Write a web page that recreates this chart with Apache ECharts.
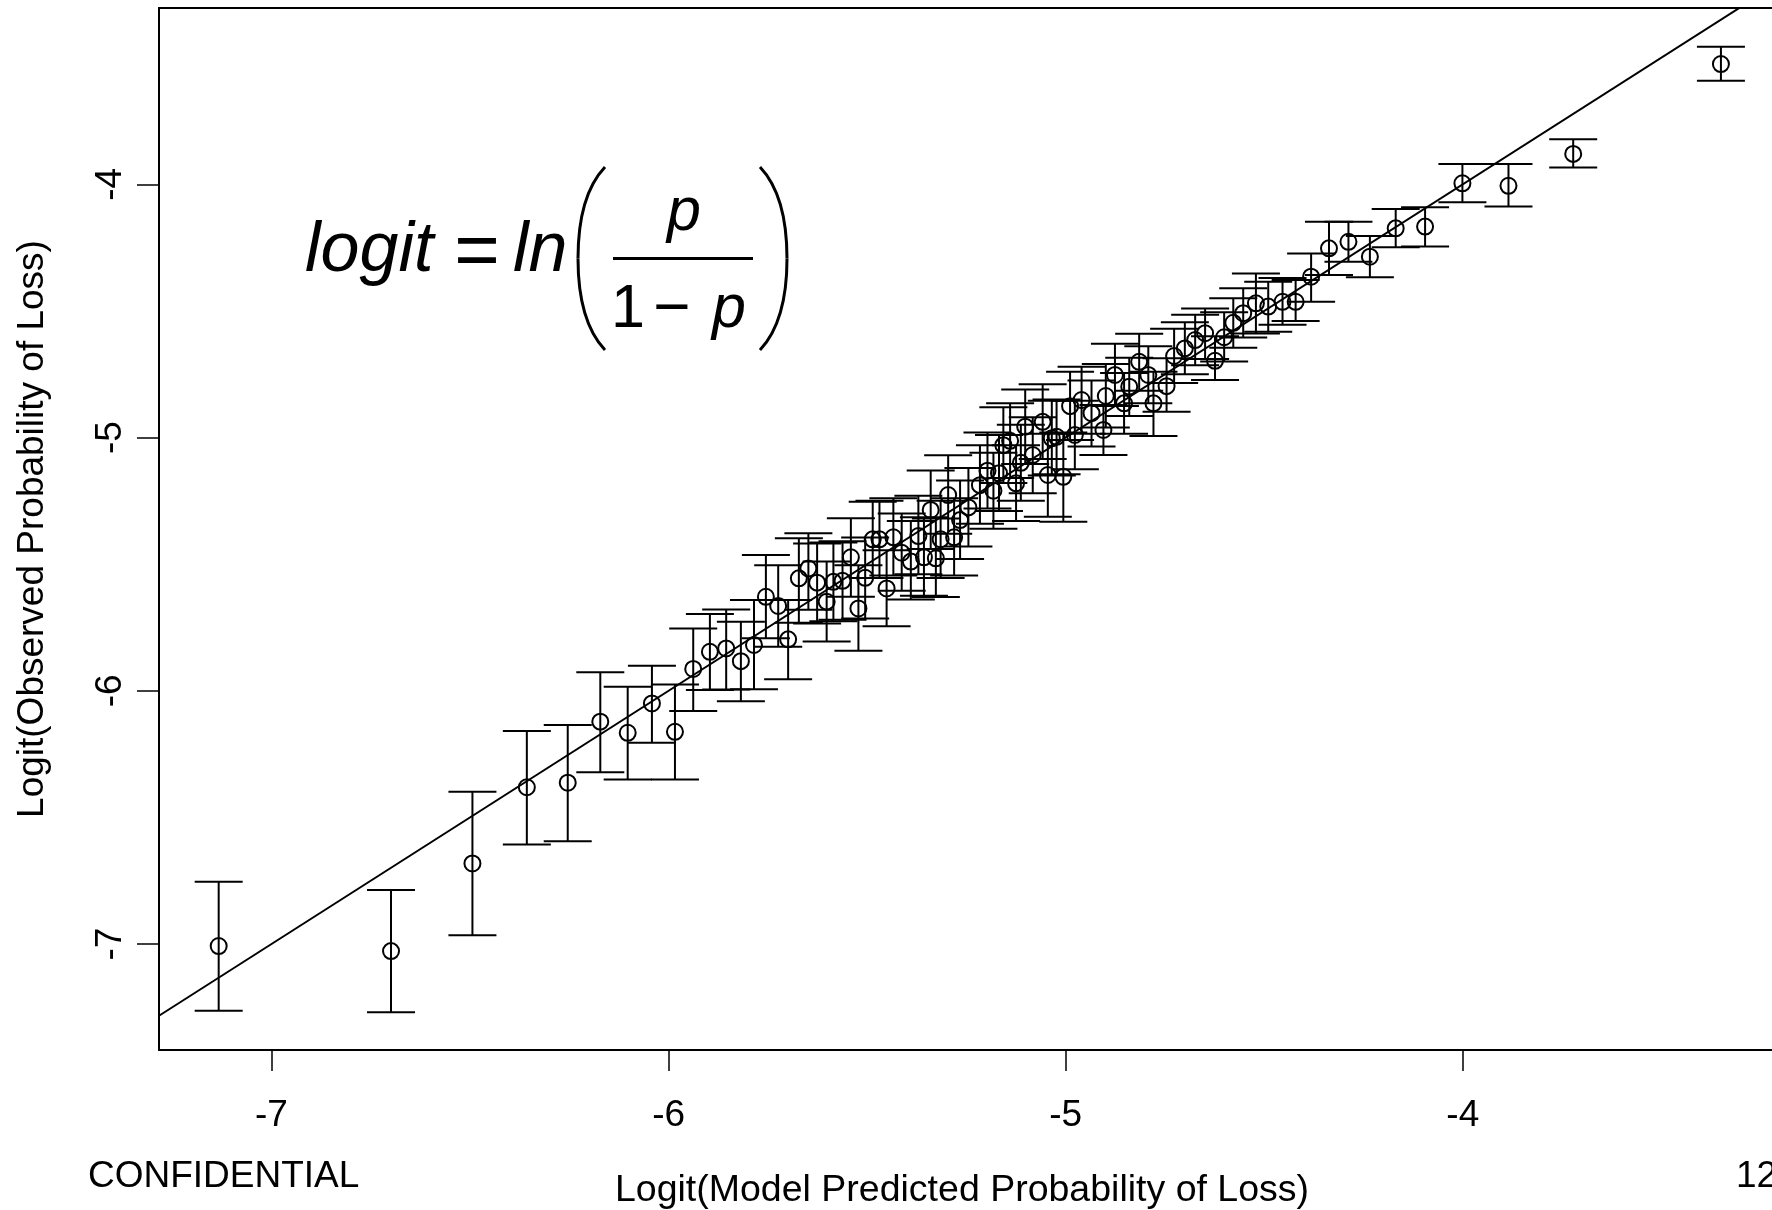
<!DOCTYPE html>
<html><head><meta charset="utf-8">
<script src="https://cdn.jsdelivr.net/npm/echarts@6/dist/echarts.min.js"></script>
<style>html,body{margin:0;padding:0;background:#fff}#c{width:1772px;height:1210px}</style>
</head><body><div id="c"></div>
<script>
// ---- data ----
const predicted = [-7.133,-6.699,-6.494,-6.357,-6.254,-6.172,-6.103,-6.042,-5.984,-5.938,
  -5.896,-5.855,-5.818,-5.785,-5.755,-5.724,-5.699,-5.672,-5.648,-5.626,
  -5.602,-5.585,-5.562,-5.541,-5.522,-5.505,-5.486,-5.469,-5.451,-5.434,
  -5.413,-5.390,-5.371,-5.357,-5.340,-5.327,-5.315,-5.296,-5.281,-5.266,
  -5.245,-5.216,-5.197,-5.182,-5.168,-5.125,-5.113,-5.083,-5.045,-5.006,
  -5.157,-5.140,-5.102,-5.058,-5.035,-5.023,-4.989,-4.977,-4.960,-4.935,
  -4.905,-4.899,-4.876,-4.853,-4.840,-4.815,-4.792,-4.779,-4.746,-4.727,
  -4.700,-4.674,-4.649,-4.624,-4.601,-4.578,-4.553,-4.521,-4.490,-4.454,
  -4.421,-4.382,-4.337,-4.288,-4.234,-4.169,-4.095,-4.001,-3.885,-3.722,-3.350];
const observed = [-7.008,-7.028,-6.682,-6.381,-6.363,-6.122,-6.166,-6.050,-6.162,-5.914,
  -5.846,-5.833,-5.883,-5.819,-5.629,-5.665,-5.797,-5.556,-5.517,-5.573,
  -5.648,-5.570,-5.566,-5.473,-5.675,-5.554,-5.402,-5.402,-5.596,-5.394,
  -5.455,-5.490,-5.389,-5.473,-5.286,-5.477,-5.402,-5.227,-5.394,-5.326,
  -5.276,-5.188,-5.131,-5.210,-5.141,-5.181,-5.100,-5.069,-5.148,-5.155,
  -5.030,-5.013,-4.957,-4.938,-5.003,-4.997,-4.876,-4.990,-4.852,-4.904,
  -4.970,-4.836,-4.753,-4.865,-4.799,-4.701,-4.753,-4.865,-4.797,-4.678,
  -4.648,-4.615,-4.588,-4.697,-4.604,-4.547,-4.509,-4.470,-4.483,-4.464,
  -4.464,-4.365,-4.253,-4.227,-4.286,-4.174,-4.167,-3.996,-4.006,-3.880,-3.525];
const lowerCI = [-7.264,-7.270,-6.965,-6.607,-6.594,-6.322,-6.350,-6.205,-6.350,-6.080,
  -5.997,-5.995,-6.041,-5.994,-5.793,-5.826,-5.955,-5.731,-5.680,-5.734,
  -5.805,-5.725,-5.720,-5.629,-5.842,-5.715,-5.555,-5.555,-5.745,-5.545,
  -5.605,-5.640,-5.540,-5.625,-5.440,-5.630,-5.555,-5.380,-5.545,-5.480,
  -5.430,-5.340,-5.280,-5.360,-5.290,-5.330,-5.250,-5.220,-5.313,-5.333,
  -5.180,-5.160,-5.105,-5.085,-5.150,-5.145,-5.010,-5.125,-4.985,-5.035,
  -5.069,-4.960,-4.875,-4.985,-4.915,-4.815,-4.865,-4.994,-4.898,-4.785,
  -4.750,-4.715,-4.690,-4.773,-4.700,-4.645,-4.605,-4.589,-4.582,-4.555,
  -4.540,-4.464,-4.358,-4.306,-4.367,-4.249,-4.246,-4.071,-4.088,-3.934,-3.591];
const upperCI = [-6.754,-6.787,-6.399,-6.159,-6.135,-5.927,-5.984,-5.901,-5.975,-5.754,
  -5.697,-5.679,-5.727,-5.642,-5.464,-5.504,-5.642,-5.398,-5.378,-5.418,
  -5.490,-5.415,-5.410,-5.319,-5.504,-5.395,-5.254,-5.250,-5.445,-5.240,
  -5.300,-5.330,-5.230,-5.315,-5.130,-5.320,-5.250,-5.070,-5.240,-5.170,
  -5.120,-5.030,-4.980,-5.060,-4.990,-5.030,-4.950,-4.920,-4.985,-4.980,
  -4.880,-4.865,-4.810,-4.790,-4.855,-4.850,-4.740,-4.855,-4.720,-4.775,
  -4.872,-4.710,-4.630,-4.745,-4.685,-4.590,-4.640,-4.740,-4.687,-4.570,
  -4.545,-4.515,-4.490,-4.600,-4.505,-4.450,-4.410,-4.352,-4.385,-4.370,
  -4.378,-4.273,-4.148,-4.148,-4.204,-4.098,-4.091,-3.920,-3.920,-3.822,-3.457];
const xTicks = [-7, -6, -5, -4];
const yTicks = [-7, -6, -5, -4];
const xRange = [-7.2833, -3.1962];
const yRange = [-7.4186, -3.3038];
const xTitle = 'Logit(Model Predicted Probability of Loss)';
const yTitle = 'Logit(Observed Probability of Loss)';

// ---- build ----
const FONT = '"Liberation Sans", Arial, Helvetica, sans-serif';
const points = predicted.map((x, i) => [x, observed[i]]);
const bars = predicted.map((x, i) => [x, lowerCI[i], upperCI[i]]);
const identity = [[xRange[0], xRange[0]], [xRange[1], xRange[1]]];

const chart = echarts.init(document.getElementById('c'), null, {renderer: 'canvas'});
const blk = '#000';
const parenStyle = {stroke: blk, lineWidth: 3, fill: null};
chart.setOption({
  backgroundColor: '#fff',
  animation: false,
  grid: {left: 159, top: 8, right: -10, bottom: 160, show: true, borderColor: blk, borderWidth: 2,
         backgroundColor: 'transparent', outerBoundsMode: 'none', containLabel: false},
  xAxis: {
    type: 'value', min: xRange[0], max: xRange[1],
    axisLine: {show: false},
    splitLine: {show: false},
    axisTick: {show: true, customValues: xTicks, length: 21, lineStyle: {color: blk, width: 1.5}},
    axisLabel: {customValues: xTicks, margin: 47, color: blk, fontSize: 37, fontFamily: FONT},
    name: xTitle, nameLocation: 'middle', nameGap: 122,
    nameTextStyle: {color: blk, fontSize: 37.5, fontFamily: FONT, padding: [0, 17, 0, 0]}
  },
  yAxis: {
    type: 'value', min: yRange[0], max: yRange[1],
    axisLine: {show: false},
    splitLine: {show: false},
    axisTick: {show: true, customValues: yTicks, length: 22, lineStyle: {color: blk, width: 1.5}},
    axisLabel: {customValues: yTicks, rotate: 90, margin: 30, color: blk, fontSize: 37, fontFamily: FONT},
    name: yTitle, nameLocation: 'middle', nameGap: 108, nameRotate: 90,
    nameTextStyle: {color: blk, fontSize: 37, fontFamily: FONT}
  },
  series: [
    {
      type: 'line', data: identity, symbol: 'none', silent: true, clip: true,
      lineStyle: {color: blk, width: 2}
    },
    {
      type: 'custom', data: bars, silent: true, clip: false,
      renderItem: function (params, api) {
        const x = api.value(0);
        const pLo = api.coord([x, api.value(1)]);
        const pHi = api.coord([x, api.value(2)]);
        const hw = 24;
        const st = {stroke: blk, lineWidth: 2, fill: null};
        return {type: 'group', children: [
          {type: 'line', shape: {x1: pLo[0], y1: pLo[1], x2: pHi[0], y2: pHi[1]}, style: st},
          {type: 'line', shape: {x1: pLo[0] - hw, y1: pLo[1], x2: pLo[0] + hw, y2: pLo[1]}, style: st},
          {type: 'line', shape: {x1: pHi[0] - hw, y1: pHi[1], x2: pHi[0] + hw, y2: pHi[1]}, style: st}
        ]};
      }
    },
    {
      type: 'scatter', data: points, symbol: 'circle', symbolSize: 16, silent: true,
      itemStyle: {color: 'rgba(0,0,0,0)', borderColor: blk, borderWidth: 2, opacity: 1}
    }
  ],
  graphic: [
    {type: 'text', x: 305, y: 252, style: {text: 'logit', fill: blk, fontSize: 70, fontStyle: 'italic', fontFamily: FONT, align: 'left', verticalAlign: 'middle'}},
    {type: 'text', x: 477, y: 254, style: {text: '=', fill: blk, fontSize: 78, fontFamily: FONT, align: 'center', verticalAlign: 'middle'}},
    {type: 'text', x: 513, y: 252, style: {text: 'ln', fill: blk, fontSize: 70, fontStyle: 'italic', fontFamily: FONT, align: 'left', verticalAlign: 'middle'}},
    {type: 'bezierCurve', shape: {x1: 605, y1: 167, cpx1: 588, cpy1: 185, cpx2: 578, cpy2: 215, x2: 578, y2: 258.5}, style: parenStyle},
    {type: 'bezierCurve', shape: {x1: 578, y1: 258.5, cpx1: 578, cpy1: 302, cpx2: 588, cpy2: 332, x2: 605, y2: 350}, style: parenStyle},
    {type: 'bezierCurve', shape: {x1: 760, y1: 167, cpx1: 777, cpy1: 185, cpx2: 787, cpy2: 215, x2: 787, y2: 258.5}, style: parenStyle},
    {type: 'bezierCurve', shape: {x1: 787, y1: 258.5, cpx1: 787, cpy1: 302, cpx2: 777, cpy2: 332, x2: 760, y2: 350}, style: parenStyle},
    {type: 'text', x: 684, y: 213, style: {text: 'p', fill: blk, fontSize: 61, fontStyle: 'italic', fontFamily: FONT, align: 'center', verticalAlign: 'middle'}},
    {type: 'line', shape: {x1: 613, y1: 258.5, x2: 753, y2: 258.5}, style: {stroke: blk, lineWidth: 3}},
    {type: 'text', x: 628, y: 310, style: {text: '1', fill: blk, fontSize: 61, fontFamily: FONT, align: 'center', verticalAlign: 'middle'}},
    {type: 'text', x: 672, y: 310, style: {text: '\u2212', fill: blk, fontSize: 64, fontFamily: FONT, align: 'center', verticalAlign: 'middle'}},
    {type: 'text', x: 729, y: 310, style: {text: 'p', fill: blk, fontSize: 61, fontStyle: 'italic', fontFamily: FONT, align: 'center', verticalAlign: 'middle'}},
    {type: 'text', x: 88, y: 1177, style: {text: 'CONFIDENTIAL', fill: blk, fontSize: 37, fontFamily: FONT, align: 'left', verticalAlign: 'middle'}},
    {type: 'text', x: 1736, y: 1177, style: {text: '12', fill: blk, fontSize: 37, fontFamily: FONT, align: 'left', verticalAlign: 'middle'}}
  ]
});
</script></body></html>
